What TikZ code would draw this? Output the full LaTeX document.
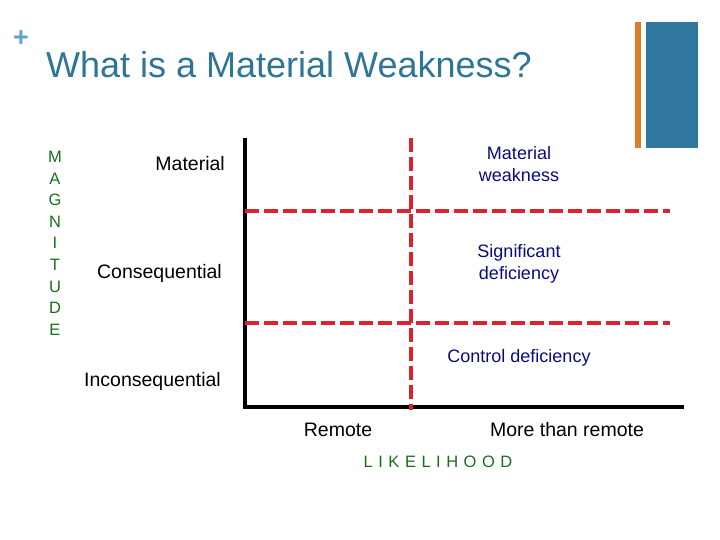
\documentclass[tikz,border=0pt]{standalone}
\usepackage{fontspec}
\setmainfont{Liberation Sans}
\definecolor{titleblue}{HTML}{2E7596}
\definecolor{plusblue}{HTML}{5AA7C8}
\definecolor{barorange}{HTML}{E07B26}
\definecolor{barblue}{HTML}{31789E}
\definecolor{dashred}{HTML}{D9232E}
\definecolor{navy}{HTML}{0A0A80}
\definecolor{mgreen}{HTML}{1A6E1A}
\begin{document}
\begin{tikzpicture}[x=1pt,y=-1pt,
  lbl/.style={font=\fontsize{19.5}{22}\selectfont,text=black,inner sep=0pt,anchor=east},
  cls/.style={font=\fontsize{18}{22}\selectfont,text=navy,inner sep=0pt,align=center},
  axis/.style={line width=3.5pt,black},
  divider/.style={line width=3.5pt,dashred,dash pattern=on 14pt off 5pt},
  grn/.style={font=\fontsize{16.5}{21.6}\selectfont,text=mgreen,inner sep=0pt}]
\useasboundingbox (0,0) rectangle (720,540);
\node[font=\fontsize{27}{27}\selectfont\bfseries,text=plusblue,inner sep=0pt] (plus) at (21,39) {+};
\node[font=\fontsize{36}{36}\selectfont,text=titleblue,inner sep=0pt,anchor=base west] (title) at (46,78) {What is a Material Weakness?};
\fill[barorange] (635,22) rectangle (641,148);
\fill[barblue] (646,22) rectangle (698,148);
% axes
\coordinate (o) at (245,407);
\coordinate (ytop) at (245,138);
\coordinate (xend) at (684,407);
\draw[axis] (ytop) -- (o) -- (xend);
% dividers
\coordinate (vt) at (411,138);
\coordinate (vb) at (411,410);
\coordinate (h1a) at (245,211);
\coordinate (h1b) at (670,211);
\coordinate (h2a) at (245,323);
\coordinate (h2b) at (670,323);
\draw[divider] (vt) -- (vb);
\draw[divider] (h1a) -- (h1b);
\draw[divider] (h2a) -- (h2b);
% classification labels
\node[cls] (mw) at (519,164) {Material\\weakness};
\node[cls] (sd) at (519,264) {Significant\\deficiency};
\node[cls] (cd) at (519,358) {Control deficiency};
% magnitude labels
\node[lbl] (mat) at (225,164) {Material};
\node[lbl] (cons) at (222,273) {Consequential};
\node[lbl] (incons) at (221,381) {Inconsequential};
\node[grn,align=center,anchor=north] (mag) at (55,151) {M\\A\\G\\N\\I\\T\\U\\D\\E};
% likelihood labels
\node[font=\fontsize{19.5}{22}\selectfont,inner sep=0pt] (rem) at (338,430) {Remote};
\node[font=\fontsize{19.5}{22}\selectfont,inner sep=0pt] (mtr) at (567,430) {More than remote};
\node[grn] (lik) at (438,462) {L\,\,I\,\,K\,\,E\,\,L\,\,I\,\,H\,\,O\,\,O\,\,D};
\end{tikzpicture}
\end{document}
